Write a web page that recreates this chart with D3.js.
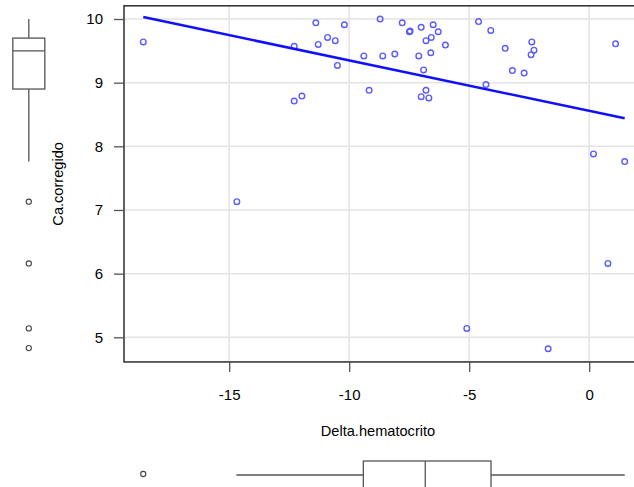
<!DOCTYPE html>
<html><head><meta charset="utf-8">
<script src="https://cdn.jsdelivr.net/npm/d3@7"></script>
<style>body{margin:0;background:#fff}svg{display:block}text{font-family:"Liberation Sans",Arial,Helvetica,sans-serif;fill:#000}</style>
</head><body>
<script>
const deltaHct = [-18.58,-11.39,-10.20,-10.90,-10.58,-11.29,-12.29,-10.49,-9.39,-8.71,-8.60,-11.97,-12.29,-9.17,-8.10,-7.79,-7.49,-7.46,-7.00,-6.50,-6.29,-6.58,-6.80,-5.99,-7.10,-6.60,-6.90,-6.80,-7.00,-6.68,-4.61,-4.10,-3.50,-2.39,-2.30,-2.42,-3.20,-2.71,-4.30,1.10,-14.68,0.18,1.48,0.78,-5.10,-1.71];
const caCorr = [9.64,9.94,9.91,9.71,9.66,9.60,9.57,9.27,9.42,10.00,9.42,8.79,8.71,8.88,9.45,9.94,9.80,9.81,9.87,9.91,9.80,9.71,9.66,9.59,9.42,9.47,9.20,8.88,8.78,8.76,9.96,9.82,9.54,9.64,9.51,9.44,9.19,9.15,8.97,9.61,7.13,7.88,7.76,6.16,5.14,4.82];
const xTicks = [-15,-10,-5,0];
const yTicks = [5,6,7,8,9,10];
const xLabel = "Delta.hematocrito";
const yLabel = "Ca.corregido";
// fitted regression line: intercept, slope
const fit = [8.557, -0.0793];
// boxplot stats: [lowWhisker, Q1, median, Q3, highWhisker]
const xBox = [-14.70,-9.41,-6.83,-4.09,1.48];
const xOut = [-18.58];
const yBox = [7.76,8.90,9.50,9.70,10.00];
const yOut = [7.13,6.16,5.14,4.83];

const W=634,H=487;
const svg=d3.select("body").append("svg").attr("width",W).attr("height",H);
const xDom=d3.extent(deltaHct), yDom=d3.extent(caCorr);
const xr=xDom[1]-xDom[0], yr=yDom[1]-yDom[0];
const x=d3.scaleLinear().domain([xDom[0]-0.04*xr,xDom[1]+0.04*xr]).range([124,124+(xr*1.08)*24]);
const y=d3.scaleLinear().domain([yDom[0]-0.04*yr,yDom[1]+0.04*yr]).range([19+(10-(yDom[0]-0.04*yr))*63.66,19+(10-(yDom[1]+0.04*yr))*63.66]);
const L=x.range()[0],R=x.range()[1],T=y.range()[1],B=y.range()[0];

// grid
const g=svg.append("g");
g.selectAll(".gx").data(xTicks).join("line").attr("x1",d=>x(d)).attr("x2",d=>x(d)).attr("y1",T).attr("y2",B).attr("stroke","#e3e3e3").attr("stroke-width",1.5);
g.selectAll(".gy").data(yTicks).join("line").attr("y1",d=>y(d)).attr("y2",d=>y(d)).attr("x1",L).attr("x2",R).attr("stroke","#e3e3e3").attr("stroke-width",1.5);

// points
svg.append("g").selectAll("circle").data(deltaHct.map((d,i)=>[d,caCorr[i]])).join("circle")
 .attr("cx",d=>x(d[0])).attr("cy",d=>y(d[1])).attr("r",2.8).attr("fill","none").attr("stroke","#5b5bff").attr("stroke-width",1.4);

// regression line
svg.append("line").attr("x1",x(xDom[0])).attr("x2",x(xDom[1]))
 .attr("y1",y(fit[0]+fit[1]*xDom[0])).attr("y2",y(fit[0]+fit[1]*xDom[1]))
 .attr("stroke","#1010ff").attr("stroke-width",2.6);

// frame
svg.append("rect").attr("x",L).attr("y",T).attr("width",R-L).attr("height",B-T).attr("fill","none").attr("stroke","#3a3a3a").attr("stroke-width",1.6);

// axes
const fmt=d=>String(d);
const xa=svg.append("g").attr("transform",`translate(0,${B})`).call(d3.axisBottom(x).tickValues(xTicks).tickSize(10).tickPadding(17).tickFormat(fmt));
xa.select(".domain").remove();
xa.selectAll("line").attr("stroke","#555").attr("stroke-width",1.3);
xa.selectAll("text").attr("font-size",15).attr("font-family","Liberation Sans, Arial, sans-serif").attr("fill","#000");
const ya=svg.append("g").attr("transform",`translate(${L},0)`).call(d3.axisLeft(y).tickValues(yTicks).tickSize(10).tickPadding(11).tickFormat(fmt));
ya.select(".domain").remove();
ya.selectAll("line").attr("stroke","#555").attr("stroke-width",1.3);
ya.selectAll("text").attr("font-size",15).attr("font-family","Liberation Sans, Arial, sans-serif").attr("fill","#000");

svg.append("text").attr("x",(L+R)/2-6).attr("y",436).attr("text-anchor","middle").attr("font-size",14.6).text(xLabel);
svg.append("text").attr("transform",`translate(62.5,${(T+B)/2})rotate(-90)`).attr("text-anchor","middle").attr("font-size",14.6).text(yLabel);

// left boxplot
const bc=28.8,bw=16,bs="#555";
const lb=svg.append("g").attr("stroke",bs).attr("stroke-width",1.3).attr("fill","none");
lb.append("line").attr("x1",bc).attr("x2",bc).attr("y1",y(yBox[4])).attr("y2",y(yBox[3]));
lb.append("line").attr("x1",bc).attr("x2",bc).attr("y1",y(yBox[1])).attr("y2",y(yBox[0]));
lb.append("rect").attr("x",bc-bw).attr("width",2*bw).attr("y",y(yBox[3])).attr("height",y(yBox[1])-y(yBox[3]));
lb.append("line").attr("x1",bc-bw).attr("x2",bc+bw).attr("y1",y(yBox[2])).attr("y2",y(yBox[2]));
lb.selectAll("circle").data(yOut).join("circle").attr("cx",bc).attr("cy",d=>y(d)).attr("r",2.6).attr("stroke","#444").attr("stroke-width",1.1);

// bottom boxplot
const by=475;
const bb=svg.append("g").attr("stroke",bs).attr("stroke-width",1.3).attr("fill","none");
bb.append("line").attr("y1",by).attr("y2",by).attr("x1",x(xBox[0])).attr("x2",x(xBox[1]));
bb.append("line").attr("y1",by).attr("y2",by).attr("x1",x(xBox[3])).attr("x2",x(xBox[4]));
bb.append("rect").attr("y",by-bw+2).attr("height",2*bw).attr("x",x(xBox[1])).attr("width",x(xBox[3])-x(xBox[1]));
bb.append("line").attr("y1",by-bw+2).attr("y2",by+bw+2).attr("x1",x(xBox[2])).attr("x2",x(xBox[2]));
bb.selectAll("circle").data(xOut).join("circle").attr("cy",by-1).attr("cx",d=>x(d)).attr("r",2.6).attr("stroke","#444").attr("stroke-width",1.1);
</script>
</body></html>
